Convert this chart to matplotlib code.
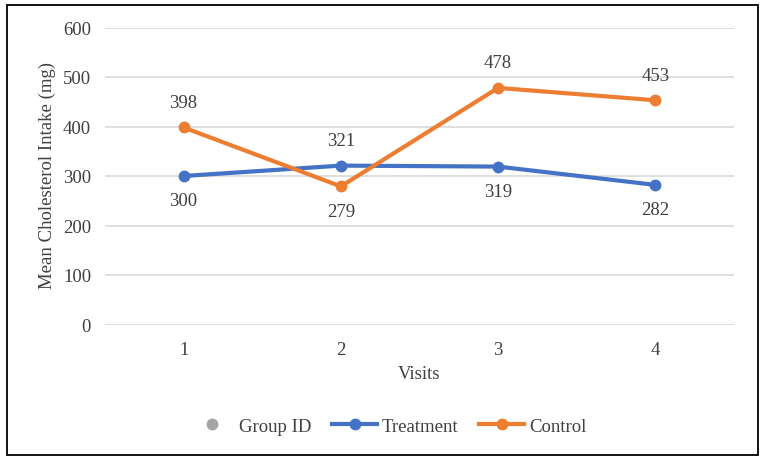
import matplotlib
matplotlib.use("Agg")
import matplotlib.pyplot as plt
from matplotlib.lines import Line2D
from matplotlib.patches import Rectangle

visits = ["1", "2", "3", "4"]
treatment = [300, 321, 319, 282]
control = [398, 279, 478, 453]
yticks = [0, 100, 200, 300, 400, 500, 600]

BLUE = "#4472C4"
ORANGE = "#ED7D31"
GRAY = "#A5A5A5"
TXT = "#404040"
FS = 13.5

plt.rcParams['font.family'] = ['Liberation Serif', 'DejaVu Serif']

fig = plt.figure(figsize=(7.65, 4.64), dpi=100)
ax = fig.add_axes([105/765, 1-325.5/464, (734-105)/765, (325.5-28.5)/464])

x = list(range(len(visits)))
ax.plot(x, treatment, color=BLUE, lw=3, marker='o', ms=7.5, solid_capstyle='round', zorder=3)
ax.plot(x, control, color=ORANGE, lw=3, marker='o', ms=7.5, solid_capstyle='round', zorder=3)

ax.set_xlim(-0.5, len(visits) - 0.5)
ax.set_ylim(0, 600)
ax.set_yticks(yticks)
ax.set_xticks(x)
ax.set_xticklabels(visits)
ax.grid(axis='y', color='#D9D9D9', lw=1.2)
ax.set_axisbelow(True)
for s in ax.spines.values():
    s.set_visible(False)
ax.tick_params(length=0, labelsize=FS, labelcolor=TXT)
ax.tick_params(axis='y', pad=10)
ax.tick_params(axis='x', pad=12)

ax.set_xlabel("Visits", fontsize=FS, color=TXT, labelpad=5)
ax.set_ylabel("Mean Cholesterol Intake (mg)", fontsize=FS, color=TXT, va='center')
ax.yaxis.set_label_coords(-0.092, 0.505)

for i in x:
    t, c = treatment[i], control[i]
    if t >= c:
        t_off, c_off = 18, -18
    else:
        t_off, c_off = -18, 18
    ax.annotate(str(t), (i, t), xytext=(0, t_off), textcoords='offset points',
                ha='center', va='center', fontsize=FS, color=TXT)
    ax.annotate(str(c), (i, c), xytext=(0, c_off), textcoords='offset points',
                ha='center', va='center', fontsize=FS, color=TXT)

handles = [
    Line2D([], [], color=GRAY, marker='o', ms=7.5, lw=0),
    Line2D([], [], color=BLUE, marker='o', ms=7.5, lw=3),
    Line2D([], [], color=ORANGE, marker='o', ms=7.5, lw=3),
]
labels = ["Group ID", "Treatment", "Control"]
fig.legend(handles, labels, loc='center', bbox_to_anchor=(388/765, 1-427/464), ncol=3,
           frameon=False, fontsize=FS, labelcolor=TXT, handlelength=2.4,
           handletextpad=0.25, columnspacing=1.1)

fig.patches.append(Rectangle((7/765, 1-456/464), (758-7)/765, (456-6)/464,
                             transform=fig.transFigure, fill=False, ec='black', lw=1.3))

fig.savefig("out.png", dpi=100)
